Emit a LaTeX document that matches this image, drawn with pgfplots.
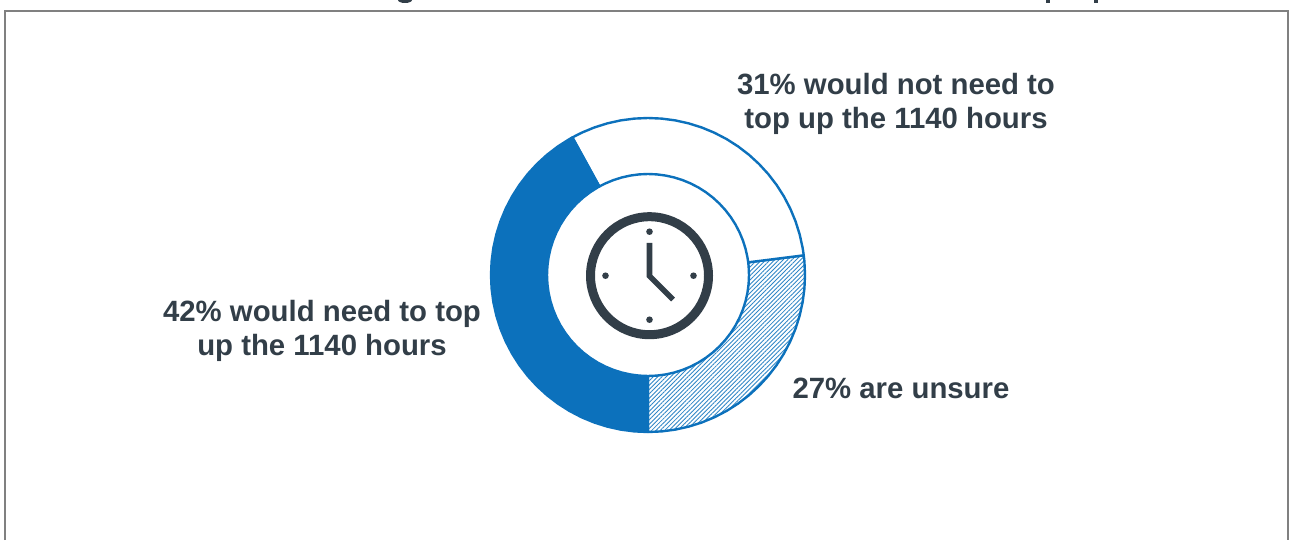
\documentclass[border=0pt]{standalone}
\usepackage{fontspec}
\setmainfont{Liberation Sans}
\usepackage{pgfplots}
\pgfplotsset{compat=1.18}
\usetikzlibrary{patterns.meta}
\definecolor{ringblue}{HTML}{0C71BC}
\definecolor{inkslate}{HTML}{323E48}
\definecolor{framegrey}{HTML}{808080}
\tikzset{share label/.style={font=\bfseries\fontsize{22pt}{25.5pt}\selectfont, text=inkslate, align=center}}

% Ring segments as (angle, radius): outer arc forward, inner arc back.
% Shares, anticlockwise from the bottom: unsure 27%, no top-up 31%, top-up 42%.
\pgfplotstableread{
theta r
-90 157
-85 157
-80 157
-75 157
-70 157
-65 157
-60 157
-55 157
-50 157
-45 157
-40 157
-35 157
-30 157
-25 157
-20 157
-15 157
-10 157
-5 157
0 157
5 157
7.2 157
7.2 101
5 101
0 101
-5 101
-10 101
-15 101
-20 101
-25 101
-30 101
-35 101
-40 101
-45 101
-50 101
-55 101
-60 101
-65 101
-70 101
-75 101
-80 101
-85 101
-90 101
}\segUnsure
\pgfplotstableread{
theta r
7.2 157
10 157
15 157
20 157
25 157
30 157
35 157
40 157
45 157
50 157
55 157
60 157
65 157
70 157
75 157
80 157
85 157
90 157
95 157
100 157
105 157
110 157
115 157
118.8 157
118.8 101
115 101
110 101
105 101
100 101
95 101
90 101
85 101
80 101
75 101
70 101
65 101
60 101
55 101
50 101
45 101
40 101
35 101
30 101
25 101
20 101
15 101
10 101
7.2 101
}\segNoTopUp
\pgfplotstableread{
theta r
118.8 157
120 157
125 157
130 157
135 157
140 157
145 157
150 157
155 157
160 157
165 157
170 157
175 157
180 157
185 157
190 157
195 157
200 157
205 157
210 157
215 157
220 157
225 157
230 157
235 157
240 157
245 157
250 157
255 157
260 157
265 157
270 157
270 101
265 101
260 101
255 101
250 101
245 101
240 101
235 101
230 101
225 101
220 101
215 101
210 101
205 101
200 101
195 101
190 101
185 101
180 101
175 101
170 101
165 101
160 101
155 101
150 101
145 101
140 101
135 101
130 101
125 101
120 101
118.8 101
}\segTopUp

\begin{document}
\begin{tikzpicture}
\path[use as bounding box] (0,0) rectangle (966.75pt,405pt);
\begin{axis}[
  at={(0,0)}, anchor=south west,
  scale only axis, width=966.75pt, height=405pt,
  xmin=-648, xmax=641, ymin=-265, ymax=275,
  hide axis,
  clip=true,
]
% Ring
\addplot[data cs=polar, draw=ringblue, line width=1.8pt, line join=round,
  pattern={Lines[angle=45, distance=2.3pt, line width=0.65pt]}, pattern color=ringblue!85!white]
  table[x=theta, y=r] {\segUnsure} -- cycle;
\addplot[data cs=polar, draw=ringblue, line width=1.8pt, line join=round, fill=white]
  table[x=theta, y=r] {\segNoTopUp} -- cycle;
\addplot[data cs=polar, draw=ringblue, line width=1.8pt, line join=round, fill=ringblue]
  table[x=theta, y=r] {\segTopUp} -- cycle;

% Clock face
\draw[inkslate, line width=6.75pt] (axis cs:1.5,-0.7) circle[radius=59];
\fill[inkslate] (axis cs:1.5,43.3) circle[radius=3.3];
\fill[inkslate] (axis cs:1.5,-44.7) circle[radius=3.3];
\fill[inkslate] (axis cs:45.5,-0.7) circle[radius=3.3];
\fill[inkslate] (axis cs:-42.5,-0.7) circle[radius=3.3];
\addplot[inkslate, line width=4.2pt, miter limit=10, line join=miter] coordinates {(1.5,32) (1.5,-1) (25,-24.5)};

% Labels
\node[share label] at (axis cs:248,171) {31\% would not need to\\top up the 1140 hours};
\node[share label] at (axis cs:-326,-56) {42\% would need to top\\up the 1140 hours};
\node[share label] at (axis cs:253,-113) {27\% are unsure};

% Ends of the heading's descenders along the top edge
\fill[inkslate] (axis cs:-243,275) ellipse[x radius=7, y radius=3];
\fill[inkslate] (axis cs:398,272) rectangle (axis cs:401.5,275);
\fill[inkslate] (axis cs:445.5,272) rectangle (axis cs:449.5,275);

% Frame, open along the bottom
\draw[framegrey, line width=1.5pt, line join=miter] (axis cs:-643,-265) -- (axis cs:-643,264) -- (axis cs:640,264) -- (axis cs:640,-265);
\end{axis}
\end{tikzpicture}
\end{document}
